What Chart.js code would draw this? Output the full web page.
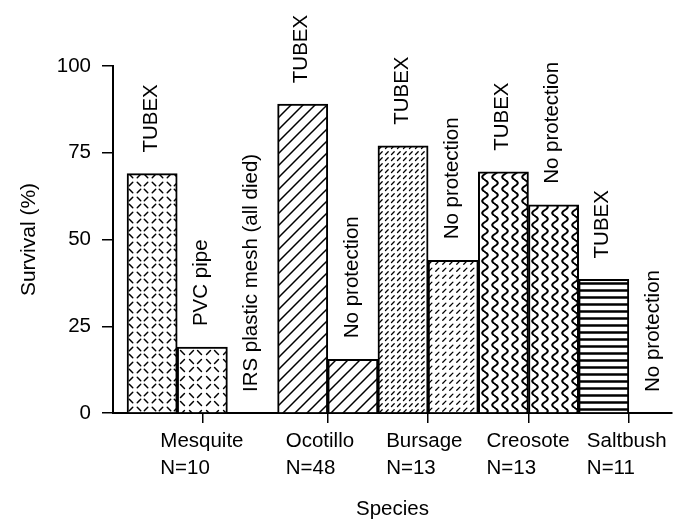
<!DOCTYPE html>
<html>
<head>
<meta charset="utf-8">
<script src="https://cdn.jsdelivr.net/npm/chart.js@4.4.1/dist/chart.umd.min.js"></script>
<style>
  html, body { margin: 0; padding: 0; background: #fff; }
  #wrap { width: 679px; height: 525px; }
</style>
</head>
<body>
<div id="wrap"><canvas id="chartSurvival" width="679" height="525"></canvas></div>
<script>
// one bar per treatment, left to right
const treatments = ['TUBEX', 'PVC pipe', 'IRS plastic mesh (all died)', 'TUBEX', 'No protection',
  'TUBEX', 'No protection', 'TUBEX', 'No protection', 'TUBEX', 'No protection'];
const survival = [69, 19, 0, 89, 15.5, 77, 44, 69.5, 60, 38.5, 0];

const species = ['Mesquite', 'Ocotillo', 'Bursage', 'Creosote', 'Saltbush'];
const sampleSizes = ['N=10', 'N=48', 'N=13', 'N=13', 'N=11'];
const barsPerSpecies = [3, 2, 2, 2, 2];
const yTicks = [0, 25, 50, 75, 100];

document.addEventListener('DOMContentLoaded', function () {
  const canvas = document.getElementById('chartSurvival');
  const ctx = canvas.getContext('2d');

  Chart.defaults.font.family = '"Liberation Sans", Arial, Helvetica, sans-serif';
  Chart.defaults.color = '#000';

  // tick position for each species = middle of its bars
  const speciesCenters = [];
  let start = 0;
  barsPerSpecies.forEach(n => {
    speciesCenters.push(start + n / 2);
    start += n;
  });

  // fill patterns drawn on small tiles
  function makePattern(w, h, draw) {
    const c = document.createElement('canvas');
    c.width = w;
    c.height = h;
    const g = c.getContext('2d');
    g.fillStyle = '#fff';
    g.fillRect(0, 0, w, h);
    g.strokeStyle = '#000';
    g.lineWidth = 1.5;
    g.lineCap = 'round';
    draw(g, w, h);
    return ctx.createPattern(c, 'repeat');
  }

  function line(g, x1, y1, x2, y2) {
    g.beginPath();
    g.moveTo(x1, y1);
    g.lineTo(x2, y2);
    g.stroke();
  }

  const dashCross = size => makePattern(size, size, (g, w) => {
    const a = w * 0.15, b = w * 0.38, c = w * 0.62, d = w * 0.85;
    line(g, a, a, b, b);
    line(g, c, c, d, d);
    line(g, a, d, b, c);
    line(g, c, b, d, a);
  });

  const hatch = makePattern(12, 12, g => {
    line(g, 0, 12, 12, 0);
    line(g, -2, 2, 2, -2);
    line(g, 10, 14, 14, 10);
  });

  const shortDash = size => makePattern(size, size, (g, w) => {
    g.lineWidth = 1.3;
    line(g, w * 0.25, w * 0.75, w * 0.7, w * 0.3);
  });

  const wave = makePattern(10, 12, g => {
    g.lineWidth = 2;
    g.beginPath();
    for (let y = 0; y <= 12; y += 0.5) {
      const x = 5 + 2.8 * Math.sin(2 * Math.PI * y / 12);
      if (y === 0) g.moveTo(x, y); else g.lineTo(x, y);
    }
    g.stroke();
  });

  const horizontal = makePattern(8, 7, g => {
    g.lineWidth = 2.5;
    g.lineCap = 'butt';
    line(g, 0, 3.5, 8, 3.5);
  });

  const fills = [dashCross(15), dashCross(17), '#fff', hatch, hatch,
    shortDash(6), shortDash(7), wave, wave, horizontal, '#fff'];

  // rotated treatment names above each bar
  const barLabels = {
    id: 'barLabels',
    afterDatasetsDraw(chart) {
      const c = chart.ctx;
      const meta = chart.getDatasetMeta(0);
      c.save();
      c.font = '20.5px "Liberation Sans", Arial, Helvetica, sans-serif';
      c.fillStyle = '#000';
      c.textAlign = 'left';
      c.textBaseline = 'middle';
      meta.data.forEach((bar, i) => {
        c.save();
        c.translate(bar.x - 1, bar.y - 21);
        c.rotate(-Math.PI / 2);
        c.fillText(treatments[i], 0, 0);
        c.restore();
      });
      c.restore();
    }
  };

  new Chart(ctx, {
    type: 'bar',
    data: {
      datasets: [{
        label: 'Survival (%)',
        data: survival.map((v, i) => ({ x: i + 0.5, y: v })),
        backgroundColor: fills,
        borderColor: '#000',
        borderWidth: 2,
        borderSkipped: 'start',
        barPercentage: 1,
        categoryPercentage: 1
      }]
    },
    options: {
      responsive: false,
      animation: false,
      layout: { padding: { top: 66, right: 7, left: 0, bottom: 0 } },
      plugins: {
        legend: { display: false },
        tooltip: { enabled: false }
      },
      scales: {
        x: {
          type: 'linear',
          offset: false,
          min: -0.28,
          max: 10.86,
          afterBuildTicks: scale => { scale.ticks = speciesCenters.map(v => ({ value: v })); },
          afterFit: scale => {
            scale.height = 112;
            scale.paddingLeft = 0;
            scale.paddingRight = 0;
          },
          grid: { offset: false, drawOnChartArea: false, tickLength: 10, color: '#000', lineWidth: 1.5 },
          border: { color: '#000', width: 2 },
          ticks: {
            autoSkip: false,
            maxRotation: 0,
            align: 'start',
            labelOffset: -42,
            padding: 5,
            font: { size: 20.5, lineHeight: 1.32 },
            callback: (value, index) => [species[index], sampleSizes[index]]
          },
          title: {
            display: true,
            text: 'Species',
            font: { size: 20.5 },
            padding: { top: 0, bottom: 3 }
          }
        },
        y: {
          min: 0,
          max: 100,
          afterBuildTicks: scale => { scale.ticks = yTicks.map(v => ({ value: v })); },
          afterFit: scale => { scale.width = 113; },
          grid: { drawOnChartArea: false, tickLength: 11, color: '#000', lineWidth: 1.5 },
          border: { color: '#000', width: 2 },
          ticks: { padding: 11, font: { size: 20.5 } },
          title: {
            display: true,
            text: 'Survival (%)',
            font: { size: 21 },
            padding: { top: 17, bottom: 0 }
          }
        }
      }
    },
    plugins: [barLabels]
  });
});
</script>
</body>
</html>
